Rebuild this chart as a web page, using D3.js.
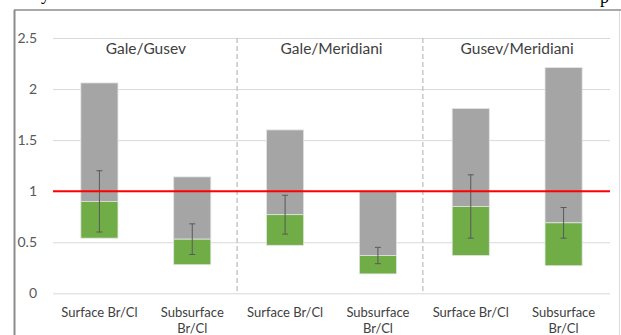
<!DOCTYPE html>
<html>
<head>
<meta charset="utf-8">
<script src="https://cdn.jsdelivr.net/npm/d3@7"></script>
<style>
  html, body { margin: 0; padding: 0; background: #fff; }
  svg { display: block; }
</style>
</head>
<body>
<svg id="chart" width="621" height="335"></svg>
<script>
// Pairwise Br/Cl ratios, floating stacked ranges with an error bar on the green segment
const categories = ["Surface Br/Cl", "Subsurface Br/Cl", "Surface Br/Cl", "Subsurface Br/Cl", "Surface Br/Cl", "Subsurface Br/Cl"];
const groups = ["Gale/Gusev", "Gale/Meridiani", "Gusev/Meridiani"];
const lowValues  = [0.54, 0.28, 0.47, 0.19, 0.37, 0.27];
const midValues  = [0.90, 0.53, 0.77, 0.37, 0.85, 0.69];
const highValues = [2.06, 1.14, 1.60, 1.00, 1.81, 2.21];
const errValues  = [0.30, 0.15, 0.19, 0.08, 0.31, 0.15];
const yTicks = [0, 0.5, 1, 1.5, 2, 2.5];
const yTickLabels = ["0", "0.5", "1", "1.5", "2", "2.5"];
const referenceValue = 1;

const svg = d3.select("#chart");
const font = "Lato, 'Open Sans', sans-serif";

const plotLeft = 53, plotRight = 610, plotTop = 38, plotBottom = 293.3;
const idx = d3.range(categories.length);

const x = d3.scaleBand().domain(idx).range([plotLeft, plotRight]).paddingInner(0.6).paddingOuter(0.3);
const y = d3.scaleLinear().domain([0, 2.5]).range([plotBottom, plotTop]);

// partial text line from the page above the figure
svg.append("text").attr("x", 41).attr("y", 0).attr("font-family", "'Liberation Serif', serif")
  .attr("font-size", 18).attr("fill", "#000").text("y");
svg.append("text").attr("x", 600).attr("y", 3).attr("font-family", "'Liberation Serif', serif")
  .attr("font-size", 18).attr("fill", "#000").text("p");

// chart frame
svg.append("line").attr("x1", 14).attr("x2", 621).attr("y1", 10).attr("y2", 10)
  .attr("stroke", "#8c8c8c").attr("stroke-width", 1.5);
svg.append("line").attr("x1", 14.5).attr("x2", 14.5).attr("y1", 10).attr("y2", 335)
  .attr("stroke", "#8c8c8c").attr("stroke-width", 2);
svg.append("line").attr("x1", 619.5).attr("x2", 619.5).attr("y1", 11).attr("y2", 335)
  .attr("stroke", "#dcdcdc").attr("stroke-width", 1);

// gridlines
const yAxis = d3.axisLeft(y).tickValues(yTicks).tickSize(-(plotRight - plotLeft))
  .tickFormat((d, i) => yTickLabels[i]);
const gAxis = svg.append("g").attr("transform", `translate(${plotLeft},0)`).call(yAxis);
gAxis.select(".domain").remove();
gAxis.selectAll(".tick line").attr("stroke", "#d9d9d9").attr("stroke-width", 1);
gAxis.selectAll(".tick text").attr("x", -16).attr("font-family", font).attr("font-size", 14)
  .attr("fill", "#595959");

// group separators
const sepXs = [1, 3].map(i => (x(i) + x.bandwidth() + x(i + 1)) / 2 - 1.5);
svg.selectAll(".sep").data(sepXs).join("line")
  .attr("x1", d => d).attr("x2", d => d)
  .attr("y1", y(2.5)).attr("y2", y(0))
  .attr("stroke", "#c8c8c8").attr("stroke-width", 1.5).attr("stroke-dasharray", "5,3");

// gray upper segment
svg.selectAll(".upper").data(idx).join("rect")
  .attr("x", i => x(i)).attr("width", x.bandwidth())
  .attr("y", i => y(highValues[i])).attr("height", i => y(midValues[i]) - y(highValues[i]))
  .attr("fill", "#a5a5a5").attr("stroke", "#e4e4e4").attr("stroke-width", 0.8);

// green lower segment
svg.selectAll(".lower").data(idx).join("rect")
  .attr("x", i => x(i)).attr("width", x.bandwidth())
  .attr("y", i => y(midValues[i])).attr("height", i => y(lowValues[i]) - y(midValues[i]))
  .attr("fill", "#70ad47").attr("stroke", "#e4e4e4").attr("stroke-width", 0.8);

// error bars
const eb = svg.selectAll(".err").data(idx).join("g")
  .attr("transform", i => `translate(${x(i) + x.bandwidth() / 2},0)`);
eb.append("line").attr("x1", 0).attr("x2", 0)
  .attr("y1", i => y(midValues[i] + errValues[i])).attr("y2", i => y(midValues[i] - errValues[i]))
  .attr("stroke", "#595959").attr("stroke-width", 1);
eb.append("line").attr("x1", -3).attr("x2", 3)
  .attr("y1", i => y(midValues[i] + errValues[i])).attr("y2", i => y(midValues[i] + errValues[i]))
  .attr("stroke", "#595959").attr("stroke-width", 1);
eb.append("line").attr("x1", -3).attr("x2", 3)
  .attr("y1", i => y(midValues[i] - errValues[i])).attr("y2", i => y(midValues[i] - errValues[i]))
  .attr("stroke", "#595959").attr("stroke-width", 1);

// reference line at ratio 1
svg.append("line").attr("x1", plotLeft).attr("x2", plotRight)
  .attr("y1", y(referenceValue)).attr("y2", y(referenceValue))
  .attr("stroke", "#ff0000").attr("stroke-width", 2);

// group titles
svg.selectAll(".grp").data(groups).join("text")
  .attr("x", (d, g) => (x(2 * g) + x(2 * g + 1) + x.bandwidth()) / 2)
  .attr("y", 54).attr("text-anchor", "middle")
  .attr("font-family", font).attr("font-size", 15.5).attr("fill", "#404040")
  .text(d => d);

// category labels
const cat = svg.selectAll(".cat").data(idx).join("text")
  .attr("text-anchor", "middle").attr("font-family", font).attr("font-size", 13)
  .attr("fill", "#404040");
cat.each(function (i) {
  const words = categories[i].split(" ");
  const cx = x(i) + x.bandwidth() / 2;
  const t = d3.select(this);
  if (words[0] === "Surface") {
    t.append("tspan").attr("x", cx).attr("y", 317).text(categories[i]);
  } else {
    t.append("tspan").attr("x", cx).attr("y", 317).text(words[0]);
    t.append("tspan").attr("x", cx).attr("y", 333).text(words.slice(1).join(" "));
  }
});
</script>
</body>
</html>
